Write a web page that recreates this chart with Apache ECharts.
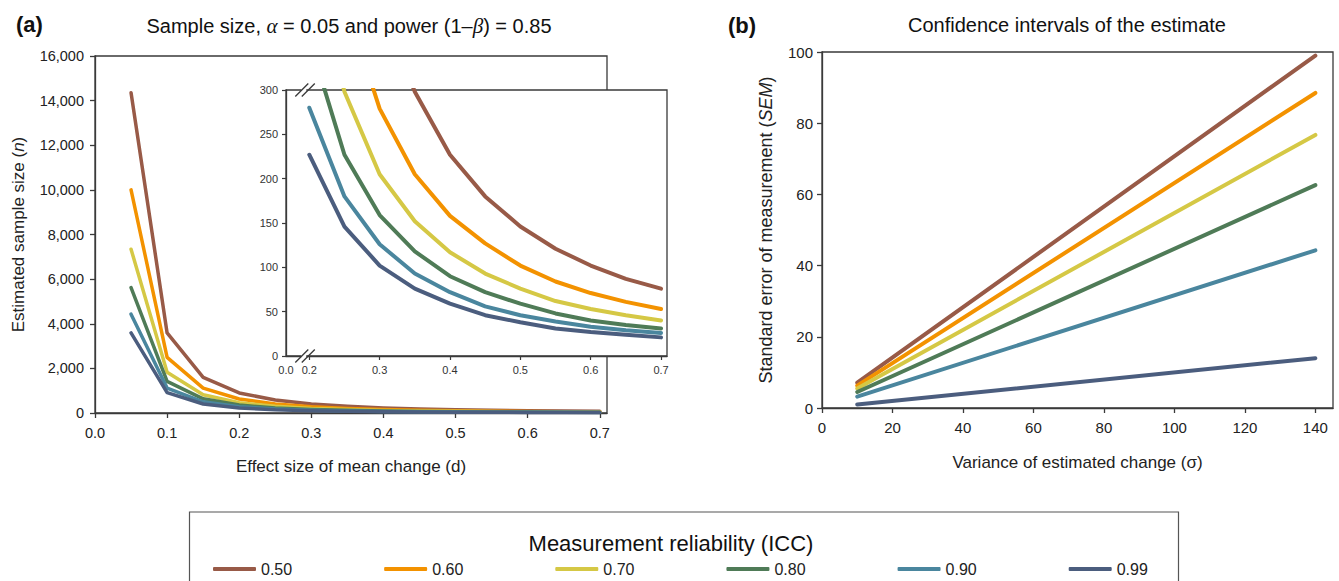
<!DOCTYPE html>
<html><head><meta charset="utf-8">
<script src="https://cdn.jsdelivr.net/npm/echarts@6/dist/echarts.min.js"></script>
<style>html,body{margin:0;padding:0;background:#fff}#c{width:1339px;height:581px}</style>
</head><body><div id="c"></div>
<script>
// ---------- data ----------
const seriesNames = ['0.50', '0.60', '0.70', '0.80', '0.90', '0.99'];
const colors = ['#985A47', '#F39200', '#D5C845', '#4F7B57', '#4A869E', '#4B5D7E'];

// panel (a): effect size d vs estimated sample size n
const effectSizes = [0.05, 0.10, 0.15, 0.20, 0.25, 0.30, 0.35, 0.40, 0.45, 0.50, 0.55, 0.60, 0.65, 0.70];
const n050 = [14350, 3590, 1600, 900, 580, 400, 298, 227, 180, 146, 121, 102, 87, 76];
const n060 = [10000, 2490, 1115, 628, 402, 279, 205, 158, 127, 102, 84, 71, 61, 53];
const n070 = [7340, 1830, 820, 460, 298, 205, 152, 117, 93, 76, 62, 53, 46, 40];
const n080 = [5620, 1420, 635, 357, 227, 159, 118, 90, 72, 59, 48, 40, 35, 31];
const n090 = [4430, 1120, 500, 280, 180, 126, 93, 72, 56, 46, 39, 33, 29, 26];
const n099 = [3590, 910, 405, 227, 146, 102, 76, 59, 46, 38, 31, 27, 24, 21];

// panel (b): variance of estimated change vs SEM
const variance = [10, 140];
const sem050 = [7.1, 99.0];
const sem060 = [6.3, 88.5];
const sem070 = [5.5, 76.7];
const sem080 = [4.5, 62.6];
const sem090 = [3.2, 44.3];
const sem099 = [1.0, 14.0];

// tick labels
const mainXTicks = [0.0, 0.1, 0.2, 0.3, 0.4, 0.5, 0.6, 0.7];
const insetXTicks = [0.2, 0.3, 0.4, 0.5, 0.6, 0.7];
const rightXTicks = [0, 20, 40, 60, 80, 100, 120, 140];

// ---------- build ----------
const nAll = [n050, n060, n070, n080, n090, n099];
const semAll = [sem050, sem060, sem070, sem080, sem090, sem099];
const FONT = '"Liberation Sans", Arial, Helvetica, sans-serif';
const AX = '#3a3a3a';
const TXT = '#222';
const INSET_MIN = 0.1669;

function axisCommon(fs, margin) {
  return {
    axisLine: { show: true, onZero: false, lineStyle: { color: AX, width: 1.3 } },
    axisTick: { show: true, length: 5, lineStyle: { color: AX, width: 1.3 } },
    axisLabel: { color: TXT, fontSize: fs, fontFamily: FONT, margin: margin },
    splitLine: { show: false }
  };
}

const series = [];
seriesNames.forEach((nm, i) => {
  series.push({
    name: nm, type: 'line', xAxisIndex: 0, yAxisIndex: 0, symbol: 'none', z: 2,
    data: effectSizes.map((d, j) => [d, nAll[i][j]]),
    itemStyle: { color: colors[i] },
    lineStyle: { color: colors[i], width: 3.5, cap: 'round', join: 'round' }
  });
});
seriesNames.forEach((nm, i) => {
  const pts = [];
  effectSizes.forEach((d, j) => { if (d >= 0.2 - 1e-9) pts.push([d, nAll[i][j]]); });
  series.push({
    name: nm, type: 'line', xAxisIndex: 1, yAxisIndex: 1, symbol: 'none', z: 8, clip: true,
    data: pts,
    itemStyle: { color: colors[i] },
    lineStyle: { color: colors[i], width: 4, cap: 'round', join: 'round' }
  });
});
seriesNames.forEach((nm, i) => {
  series.push({
    name: nm, type: 'line', xAxisIndex: 2, yAxisIndex: 2, symbol: 'none', z: 2,
    data: variance.map((v, j) => [v, semAll[i][j]]),
    itemStyle: { color: colors[i] },
    lineStyle: { color: colors[i], width: 4, cap: 'round', join: 'round' }
  });
});

const chart = echarts.init(document.getElementById('c'), null, { renderer: 'svg' });

const option = {
  animation: false,
  backgroundColor: '#fff',
  textStyle: { fontFamily: FONT },
  grid: [
    { left: 95, top: 56, width: 512, height: 357, show: true, borderColor: AX, borderWidth: 1.3, backgroundColor: 'transparent', containLabel: false },
    { left: 286, top: 90, width: 381, height: 266, show: true, borderColor: AX, borderWidth: 1.3, backgroundColor: '#fff', z: 5, containLabel: false },
    { left: 822, top: 52, width: 511, height: 356, show: true, borderColor: AX, borderWidth: 1.3, backgroundColor: 'transparent', containLabel: false }
  ],
  xAxis: [
    Object.assign(axisCommon(14.5, 12), {
      type: 'value', gridIndex: 0, min: 0, max: 0.71,
      name: 'Effect size of mean change (d)', nameLocation: 'middle', nameGap: 45,
      nameTextStyle: { fontSize: 17, color: TXT, fontFamily: FONT },
      axisLabel: { color: TXT, fontSize: 14.5, fontFamily: FONT, margin: 12, customValues: mainXTicks, formatter: v => v.toFixed(1) },
      axisTick: { show: true, length: 5, customValues: mainXTicks, lineStyle: { color: AX, width: 1.3 } }
    }),
    Object.assign(axisCommon(11, 8), {
      type: 'value', gridIndex: 1, min: INSET_MIN, max: 0.7085, z: 9,
      axisLabel: { color: '#333', fontSize: 11, fontFamily: FONT, margin: 8,
        customValues: [INSET_MIN].concat(insetXTicks),
        formatter: v => (v < 0.19 ? '0.0' : v.toFixed(1)) },
      axisTick: { show: true, length: 4, customValues: insetXTicks, lineStyle: { color: AX, width: 1.2 } }
    }),
    Object.assign(axisCommon(15, 12), {
      type: 'value', gridIndex: 2, min: 0, max: 145,
      name: 'Variance of estimated change (\u03c3)', nameLocation: 'middle', nameGap: 46,
      nameTextStyle: { fontSize: 17, color: TXT, fontFamily: FONT },
      axisLabel: { color: TXT, fontSize: 15, fontFamily: FONT, margin: 12, customValues: rightXTicks },
      axisTick: { show: true, length: 5, customValues: rightXTicks, lineStyle: { color: AX, width: 1.3 } }
    })
  ],
  yAxis: [
    Object.assign(axisCommon(14.5, 11), {
      type: 'value', gridIndex: 0, min: 0, max: 16000, interval: 2000,
      name: 'Estimated sample size ({i|n})', nameLocation: 'middle', nameGap: 68, nameRotate: 90,
      nameTextStyle: { fontSize: 17, color: TXT, fontFamily: FONT,
        rich: { i: { fontSize: 17, fontStyle: 'italic', color: TXT, fontFamily: FONT } } },
      axisLabel: { color: TXT, fontSize: 14.5, fontFamily: FONT, margin: 11,
        formatter: v => v.toLocaleString('en-US') }
    }),
    Object.assign(axisCommon(11, 8), {
      type: 'value', gridIndex: 1, min: 0, max: 300, interval: 50, z: 9,
      axisLabel: { color: '#333', fontSize: 11, fontFamily: FONT, margin: 8 },
      axisTick: { show: true, length: 4, lineStyle: { color: AX, width: 1.2 } }
    }),
    Object.assign(axisCommon(15, 9), {
      type: 'value', gridIndex: 2, min: 0, max: 100, interval: 20,
      name: 'Standard error of measurement ({i|SEM})', nameLocation: 'middle', nameGap: 47, nameRotate: 90,
      nameTextStyle: { fontSize: 18, color: TXT, fontFamily: FONT,
        rich: { i: { fontSize: 18, fontStyle: 'italic', color: TXT, fontFamily: FONT } } }
    })
  ],
  legend: {
    data: seriesNames, left: 208, top: 556, orient: 'horizontal',
    icon: 'roundRect', itemWidth: 43, itemHeight: 4, itemGap: 92,
    selectedMode: false,
    textStyle: { fontSize: 16, color: TXT, fontFamily: FONT }
  },
  series: series
};
chart.setOption(option);

// decorations: titles, legend frame, axis-break marks
function breakMarks(yVal) {
  const c = chart.convertToPixel({ xAxisIndex: 1, yAxisIndex: 1 }, [0.2, yVal]);
  const cx = c[0] - 4, cy = c[1];
  const mk = (dx) => ({
    type: 'line', z: 100,
    shape: { x1: cx - 10 + dx, y1: cy + 6.5, x2: cx + 3 + dx, y2: cy - 6.5 },
    style: { stroke: AX, lineWidth: 1.3 }
  });
  return [
    { type: 'rect', z: 99, shape: { x: cx - 4, y: cy - 2, width: 5, height: 4 }, style: { fill: '#fff' } },
    mk(0), mk(6.5)
  ];
}

const graphics = [
  { type: 'text', z: 100, style: { text: '(a)', x: 16, y: 24, textVerticalAlign: 'middle', font: 'bold 22px ' + FONT, fill: '#111' } },
  { type: 'text', z: 100, style: {
      text: 'Sample size, {g|\u03b1} = 0.05 and power (1\u2013{g|\u03b2}) = 0.85',
      x: 349, y: 26, textAlign: 'center', textVerticalAlign: 'middle', font: '20px ' + FONT, fill: '#111',
      rich: { g: { fontSize: 21, fontStyle: 'italic', fontFamily: '"Liberation Serif", "DejaVu Serif", serif', fill: '#111' } }
  } },
  { type: 'text', z: 100, style: { text: '(b)', x: 728, y: 25, textVerticalAlign: 'middle', font: 'bold 22px ' + FONT, fill: '#111' } },
  { type: 'text', z: 100, style: { text: 'Confidence intervals of the estimate', x: 1067, y: 25, textAlign: 'center', textVerticalAlign: 'middle', font: '20px ' + FONT, fill: '#111' } },
  { type: 'rect', z: 1, shape: { x: 189.5, y: 512, width: 989, height: 80 }, style: { fill: 'none', stroke: '#555', lineWidth: 1.2 } },
  { type: 'text', z: 100, style: { text: 'Measurement reliability (ICC)', x: 671, y: 543, textAlign: 'center', textVerticalAlign: 'middle', font: '22px ' + FONT, fill: '#111' } }
].concat(breakMarks(300)).concat(breakMarks(0));

chart.setOption({ graphic: graphics });
</script>
</body></html>
